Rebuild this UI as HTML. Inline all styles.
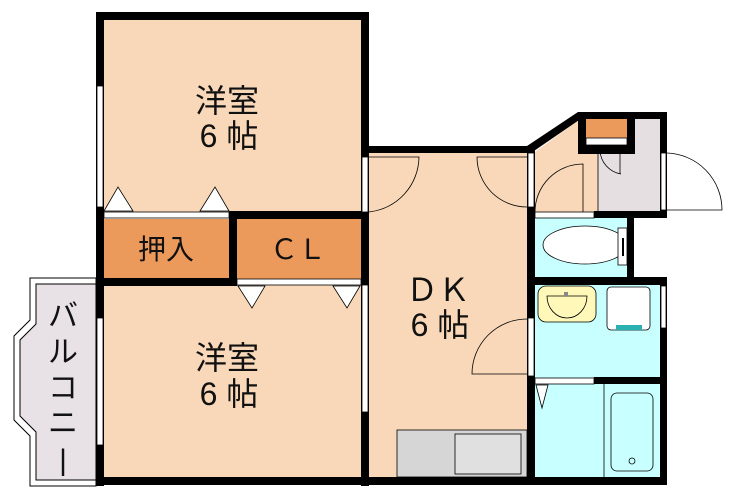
<!DOCTYPE html>
<html><head><meta charset="utf-8"><style>
html,body{margin:0;padding:0;background:#fff}
svg{display:block}
text{font-family:"Liberation Sans","Noto Sans CJK JP",sans-serif;fill:#111}
</style></head><body>
<svg width="730" height="497" viewBox="0 0 730 497" xmlns="http://www.w3.org/2000/svg">
<polygon points="30,278 96,278 96,486 30,486 30,436 14,420 14,336 30,320" fill="#fff" stroke="#000" stroke-width="1"/>
<polygon points="36,284 96,284 96,480 36,480 36,432 20,416 20,340 36,324" fill="#e8e2e6" stroke="#000" stroke-width="1"/>
<rect x="103" y="19" width="259" height="193" fill="#f8d8b8"/>
<rect x="103" y="285" width="259" height="193" fill="#f8d8b8"/>
<rect x="103" y="219" width="127" height="60" fill="#ec9a5c"/>
<rect x="236" y="219" width="126" height="60" fill="#ec9a5c"/>
<rect x="368" y="152" width="160" height="326" fill="#f8d8b8"/>
<polygon points="535,152 580,119 598,119 598,212 535,212" fill="#f8d8b8"/>
<rect x="598" y="119" width="62" height="93" fill="#e6dfe2"/>
<rect x="585" y="119" width="43" height="27" fill="#ec9a5c"/>
<rect x="535" y="218" width="92" height="60" fill="#c8ffff"/>
<rect x="535" y="284" width="125" height="94" fill="#c8ffff"/>
<rect x="535" y="384" width="125" height="94" fill="#c8ffff"/>
<g fill="#000">
<rect x="96" y="12" width="273" height="8"/>
<rect x="96" y="12" width="8" height="474"/>
<rect x="361" y="12" width="8" height="474"/>
<rect x="96" y="477" width="571" height="8"/>
<rect x="229" y="211" width="140" height="8"/>
<rect x="96" y="278" width="140" height="8"/>
<rect x="229" y="211" width="8" height="75"/>
<rect x="361" y="146" width="170" height="7"/>
<rect x="527" y="146" width="8" height="339"/>
<polygon points="527,146 578,112 582,118 531,153"/>
<rect x="578" y="112" width="89" height="7"/>
<rect x="660" y="112" width="7" height="106"/>
<rect x="578" y="112" width="8" height="42"/>
<rect x="578" y="145" width="57" height="9"/>
<rect x="627" y="112" width="8" height="42"/>
<rect x="594" y="211" width="73" height="7"/>
<rect x="627" y="211" width="7" height="69"/>
<rect x="527" y="277" width="140" height="8"/>
<rect x="660" y="277" width="7" height="208"/>
<rect x="594" y="377" width="73" height="7"/>
</g>
<g fill="#fff" stroke="#000" stroke-width="0.8">
<rect x="97" y="86" width="6" height="121"/>
<rect x="97" y="318" width="6" height="127"/>
<rect x="362" y="157" width="6" height="55"/>
<rect x="362" y="285" width="6" height="127"/>
<rect x="104" y="212" width="125" height="6"/>
<rect x="237" y="279" width="124" height="6"/>
<rect x="528" y="153" width="6" height="54"/>
<rect x="528" y="318" width="6" height="58"/>
<rect x="661" y="153" width="5" height="57"/>
<rect x="535" y="212" width="59" height="6"/>
<rect x="661" y="286" width="5" height="42"/>
<rect x="535" y="378" width="59" height="6"/>
<rect x="586" y="138" width="41" height="7"/>
</g>
<g fill="#fff" stroke="#000" stroke-width="0.8">
<polygon points="104,211 133,211 118,187"/>
<polygon points="200,211 229,211 215,187"/>
<polygon points="238,286 265,286 252,308"/>
<polygon points="333,286 360,286 347,308"/>
<polygon points="536,385 548,385 542,408"/>
</g>
<g fill="none" stroke="#000" stroke-width="0.8">
<path d="M369,212 A56,56 0 0 0 419,157 L369,157"/>
<path d="M527,207 A50,50 0 0 1 477,157 L527,157"/>
<path d="M527,319 A55,55 0 0 0 472,374 L527,374"/>
<path d="M535,212 A48,48 0 0 1 583,164 L583,212"/>
<path d="M598,212 L598,153 M600,150 A25,25 0 0 0 621,174 M620,150 L620,174"/>
<path d="M667,210 L722,210 A57,57 0 0 0 667,153"/>
<path d="M604,384 L604,477"/>
</g>
<rect x="397" y="430" width="130" height="47" fill="#d6d6d6" stroke="#000" stroke-width="0.8"/>
<rect x="455" y="434" width="66" height="40" fill="#e0e0e0" stroke="#000" stroke-width="0.8"/>
<ellipse cx="585" cy="245" rx="42" ry="19" fill="#fff" stroke="#000" stroke-width="0.8"/>
<rect x="618" y="228" width="9" height="37" fill="#fff" stroke="#000" stroke-width="0.8"/>
<rect x="622" y="238" width="2" height="18" fill="#000"/>
<rect x="538" y="286" width="58" height="36" rx="8" fill="#fff8b8" stroke="#000" stroke-width="0.8"/>
<path d="M547,296 A20,22 0 0 0 587,296 Z" fill="#fff8b8" stroke="#000" stroke-width="0.8"/>
<rect x="564" y="292" width="4" height="4" fill="#888"/>
<rect x="607" y="287" width="43" height="43" rx="4" fill="#fff" stroke="#000" stroke-width="0.8"/>
<rect x="616" y="325" width="26" height="5" fill="#2ab0b0"/>
<rect x="611" y="393" width="42" height="78" rx="6" fill="#c8ffff" stroke="#000" stroke-width="0.8"/>
<circle cx="632" cy="461" r="3" fill="none" stroke="#000" stroke-width="0.8"/>
<text x="227" y="112" font-size="32" text-anchor="middle">洋室</text>
<text x="229" y="147" font-size="32" text-anchor="middle">6 帖</text>
<text x="227" y="369" font-size="32" text-anchor="middle">洋室</text>
<text x="229" y="405" font-size="32" text-anchor="middle">6 帖</text>
<text x="166" y="259" font-size="28" text-anchor="middle">押入</text>
<text x="298" y="259" font-size="28" text-anchor="middle">ＣＬ</text>
<text x="438" y="301" font-size="32" text-anchor="middle">ＤＫ</text>
<text x="440" y="336" font-size="32" text-anchor="middle">6 帖</text>
<g font-size="30" text-anchor="middle">
<text x="63" y="326">バ</text>
<text x="63" y="362">ル</text>
<text x="63" y="398">コ</text>
<text x="63" y="433">ニ</text>
<text x="63" y="470">|</text>
</g>
</svg>
</body></html>
